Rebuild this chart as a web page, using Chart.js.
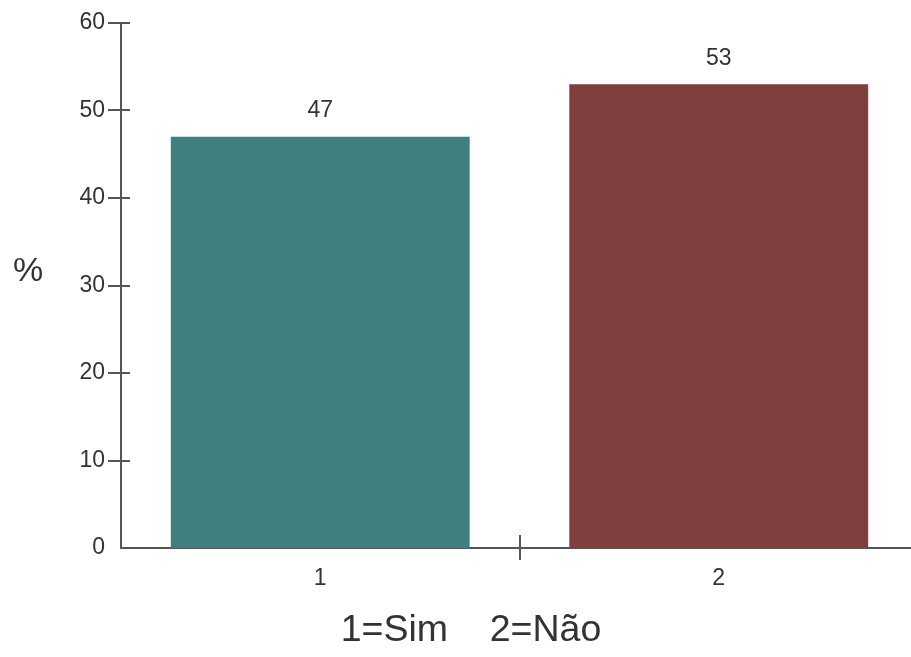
<!DOCTYPE html>
<html>
<head>
<meta charset="utf-8">
<title>Sim / Não</title>
<script src="https://cdn.jsdelivr.net/npm/chart.js@4.4.1/dist/chart.umd.min.js"></script>
<style>
  html, body { margin: 0; padding: 0; background: #fff; overflow: hidden; }
  #wrap { width: 918px; height: 657px; }
</style>
</head>
<body>
<div id="wrap"><canvas id="respostaChart" width="918" height="657"></canvas></div>
<script>
// Data
const categorias = ['1', '2'];
const percentuais = [47, 53];
const coresBarras = ['#3F7F7F', '#7F3F3F'];
const yTicks = [0, 10, 20, 30, 40, 50, 60];
const legenda = '1=Sim    2=Não';
const unidade = '%';

const FONT = "'Liberation Sans', Arial, sans-serif";
const AXIS_COLOR = '#555555';
const TEXT_COLOR = '#333333';

// Extra drawing: crossing tick marks, value labels, % and caption
const extras = {
  id: 'extras',
  afterDraw(chart) {
    const { ctx, scales: { x, y } } = chart;
    ctx.save();

    // y tick marks crossing the axis (skip 0, it sits on the x axis)
    ctx.strokeStyle = AXIS_COLOR;
    ctx.lineWidth = 2;
    yTicks.forEach(v => {
      if (v === 0) return;
      const py = Math.round(y.getPixelForValue(v));
      ctx.beginPath();
      ctx.moveTo(x.left - 13, py);
      ctx.lineTo(x.left + 9, py);
      ctx.stroke();
    });

    // divider between the two categories
    const px = Math.round((x.getPixelForValue(0) + x.getPixelForValue(1)) / 2);
    ctx.beginPath();
    ctx.moveTo(px, y.bottom - 13);
    ctx.lineTo(px, y.bottom + 12);
    ctx.stroke();

    // value labels above bars
    ctx.fillStyle = TEXT_COLOR;
    ctx.font = '23px ' + FONT;
    ctx.textAlign = 'center';
    ctx.textBaseline = 'middle';
    const meta = chart.getDatasetMeta(0);
    meta.data.forEach((bar, i) => {
      ctx.fillText(String(percentuais[i]), bar.x, bar.y - 26);
    });

    // unit label on the left
    ctx.font = '34px ' + FONT;
    ctx.fillText(unidade, 28, (y.top + y.bottom) / 2 - 14);

    // caption under the axis
    ctx.font = '37.5px ' + FONT;
    ctx.fillText(legenda, 471, 631);

    ctx.restore();
  }
};

new Chart(document.getElementById('respostaChart'), {
  type: 'bar',
  data: {
    labels: categorias,
    datasets: [{
      data: percentuais,
      backgroundColor: coresBarras,
      borderWidth: 0,
      categoryPercentage: 1.0,
      barPercentage: 0.75
    }]
  },
  options: {
    responsive: false,
    animation: false,
    devicePixelRatio: 1,
    layout: { padding: { top: 23, left: 0, right: 0, bottom: 0 } },
    plugins: {
      legend: { display: false },
      title: { display: false },
      tooltip: { enabled: false }
    },
    scales: {
      x: {
        grid: { display: false, drawTicks: false },
        border: { display: true, color: AXIS_COLOR, width: 2 },
        ticks: { color: TEXT_COLOR, font: { family: FONT, size: 23 }, padding: 17, maxRotation: 0 },
        afterFit(scale) { scale.height = 109; }
      },
      y: {
        min: 0,
        max: 60,
        grid: { display: false, drawTicks: false },
        border: { display: true, color: AXIS_COLOR, width: 2 },
        ticks: {
          stepSize: 10,
          color: TEXT_COLOR,
          font: { family: FONT, size: 23 },
          padding: 16
        },
        afterFit(scale) {
          scale.width = 121;
          scale.paddingTop = 0;
        }
      }
    }
  },
  plugins: [extras]
});
</script>
</body>
</html>
